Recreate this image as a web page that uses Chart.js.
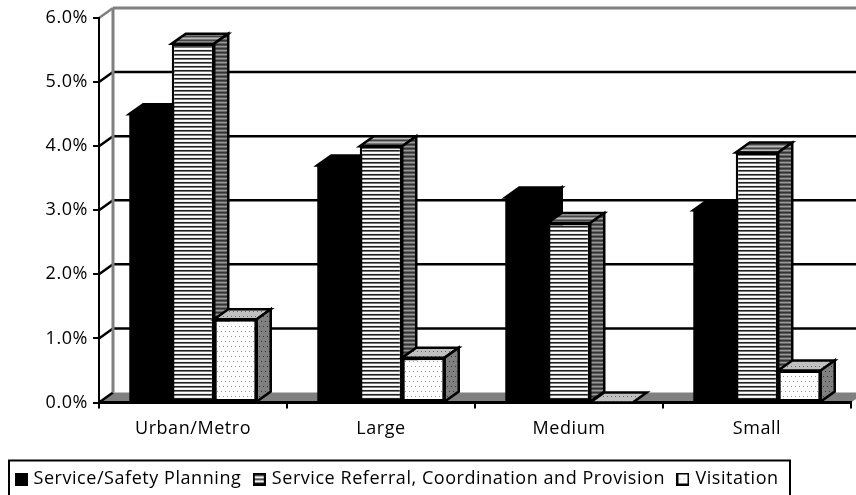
<!DOCTYPE html>
<html>
<head>
<meta charset="utf-8">
<style>
  html, body { margin: 0; padding: 0; background: #fff; }
  #wrap { position: relative; width: 856px; height: 495px; overflow: hidden; }
</style>
<script src="https://cdn.jsdelivr.net/npm/chart.js@4"></script>
</head>
<body>
<div id="wrap"><canvas id="chart" width="856" height="495"></canvas></div>
<script>
const categories = ['Urban/Metro', 'Large', 'Medium', 'Small'];
const planning = [4.5, 3.7, 3.2, 3.0];
const referral = [5.6, 4.0, 2.8, 3.9];
const visitation = [1.3, 0.7, 0.0, 0.5];
const seriesNames = ['Service/Safety Planning', 'Service Referral, Coordination and Provision', 'Visitation'];
const yTicks = [0, 1, 2, 3, 4, 5, 6];

const FONT = { family: '"Open Sans", sans-serif', size: 18 };
const TRACKING = '0.55px';
const DEPTH_X = 14;
const DEPTH_Y = 10;

// Builds a repeating fill from a draw callback.
function tile(w, h, paint) {
  const c = document.createElement('canvas');
  c.width = w; c.height = h;
  paint(c.getContext('2d'));
  return c.getContext('2d').createPattern(c, 'repeat');
}
function stripes(colors) {
  return tile(1, colors.length, g => colors.forEach((col, i) => { g.fillStyle = col; g.fillRect(0, i, 1, 1); }));
}
function dots(bg, dot) {
  return tile(8, 10, g => {
    g.fillStyle = bg; g.fillRect(0, 0, 8, 10);
    g.fillStyle = dot;
    [[1, 1], [5, 1], [3, 6], [7, 6]].forEach(p => g.fillRect(p[0], p[1], 1, 1));
  });
}

const faces = [
  { front: '#000', top: '#000', side: '#000' },
  { front: stripes(['#fff', '#eee', '#222', '#777']),
    top: stripes(['#444', '#888', '#bbb', '#777']),
    side: stripes(['#333', '#555', '#999', '#666']) },
  { front: dots('#fff', '#999'), top: dots('#c0c0c0', '#666'), side: dots('#808080', '#333') }
];

// Legend swatches: small framed squares carrying each series' front fill.
function swatch(fill) {
  const c = document.createElement('canvas');
  c.width = 13; c.height = 13;
  const g = c.getContext('2d');
  g.fillStyle = fill; g.fillRect(1, 1, 11, 11);
  g.strokeStyle = '#000'; g.lineWidth = 2; g.strokeRect(1, 1, 11, 11);
  return c;
}
const swatches = faces.map(f => swatch(f.front));

// Back wall, floor and the side wall behind the bars.
const roomPlugin = {
  id: 'room',
  beforeLayout(chart) {
    chart.ctx.letterSpacing = TRACKING;
  },
  beforeDraw(chart) {
    const { ctx, chartArea: a, scales: { y } } = chart;
    ctx.letterSpacing = TRACKING;
    ctx.save();
    ctx.fillStyle = '#fff';
    ctx.fillRect(0, 0, chart.width, chart.height);
    const gray = '#808080';
    ctx.fillStyle = gray;
    ctx.beginPath();
    ctx.moveTo(a.left, a.bottom);
    ctx.lineTo(a.left + DEPTH_X, a.bottom - DEPTH_Y);
    ctx.lineTo(a.right + DEPTH_X, a.bottom - DEPTH_Y);
    ctx.lineTo(a.right, a.bottom);
    ctx.closePath();
    ctx.fill();

    yTicks.forEach(v => {
      const py = y.getPixelForValue(v);
      const isTop = v === yTicks[yTicks.length - 1];
      ctx.strokeStyle = isTop ? gray : '#000';
      ctx.lineWidth = isTop ? 3 : 2.5;
      if (v > 0) {
        ctx.beginPath();
        ctx.moveTo(a.left + DEPTH_X, py - DEPTH_Y);
        ctx.lineTo(a.right + DEPTH_X, py - DEPTH_Y);
        ctx.stroke();
      }
      ctx.lineWidth = 2.5;
      ctx.beginPath();
      ctx.moveTo(a.left, py);
      ctx.lineTo(a.left + DEPTH_X, py - DEPTH_Y);
      ctx.stroke();
    });

    ctx.strokeStyle = gray;
    ctx.lineWidth = 3;
    ctx.beginPath();
    ctx.moveTo(a.left + DEPTH_X, y.getPixelForValue(6) - DEPTH_Y);
    ctx.lineTo(a.left + DEPTH_X, a.bottom - DEPTH_Y);
    ctx.stroke();
    ctx.restore();
  },
  // Legend frame, running off the lower edge of the page.
  afterDraw(chart) {
    const { ctx } = chart;
    ctx.save();
    ctx.strokeStyle = '#000';
    ctx.lineWidth = 2;
    ctx.strokeRect(9, 460.5, 781, 50);
    ctx.restore();
  }
};

function drawDepth(ctx, meta, face) {
  ctx.save();
  ctx.strokeStyle = '#000';
  ctx.lineWidth = 2.5;
  ctx.lineJoin = 'miter';
  meta.data.forEach(bar => {
    const p = bar.getProps(['x', 'y', 'base', 'width'], true);
    const l = p.x - p.width / 2, r = p.x + p.width / 2;
    ctx.fillStyle = face.top;
    ctx.beginPath();
    ctx.moveTo(l, p.y);
    ctx.lineTo(l + DEPTH_X, p.y - DEPTH_Y);
    ctx.lineTo(r + DEPTH_X, p.y - DEPTH_Y);
    ctx.lineTo(r, p.y);
    ctx.closePath();
    ctx.fill(); ctx.stroke();
    if (p.base - p.y > 0.5) {
      ctx.fillStyle = face.side;
      ctx.beginPath();
      ctx.moveTo(r, p.y);
      ctx.lineTo(r + DEPTH_X, p.y - DEPTH_Y);
      ctx.lineTo(r + DEPTH_X, p.base - DEPTH_Y);
      ctx.lineTo(r, p.base);
      ctx.closePath();
      ctx.fill(); ctx.stroke();
    }
  });
  ctx.restore();
}

// Series are painted left to right so each one overlaps the side face of the one before it.
const depthPlugin = {
  id: 'depth',
  beforeDatasetDraw() {
    return false;
  },
  afterDatasetsDraw(chart) {
    faces.forEach((face, i) => {
      const meta = chart.getDatasetMeta(i);
      drawDepth(chart.ctx, meta, face);
      meta.controller.draw();
    });
  }
};

const legendDefaults = Chart.defaults.plugins.legend.labels.generateLabels;

new Chart(document.getElementById('chart'), {
  type: 'bar',
  data: {
    labels: categories,
    datasets: [
      { label: seriesNames[0], data: planning, backgroundColor: faces[0].front, borderWidth: 0 },
      { label: seriesNames[1], data: referral, backgroundColor: faces[1].front },
      { label: seriesNames[2], data: visitation, backgroundColor: faces[2].front }
    ]
  },
  plugins: [roomPlugin, depthPlugin],
  options: {
    responsive: false,
    animation: false,
    events: [],
    layout: { padding: { top: 18, left: 3, right: 5, bottom: -3 } },
    datasets: {
      bar: { categoryPercentage: 0.678, barPercentage: 1, borderColor: '#000', borderWidth: 2.5, borderSkipped: false }
    },
    scales: {
      x: {
        grid: { drawOnChartArea: false, color: '#000', lineWidth: 2, tickLength: 6 },
        border: { color: '#000', width: 3 },
        ticks: { color: '#000', font: FONT, padding: 10, maxRotation: 0 },
        afterFit(s) { s.height = 53; }
      },
      y: {
        min: 0, max: 6,
        afterBuildTicks(s) { s.ticks = yTicks.map(v => ({ value: v })); },
        grid: { drawOnChartArea: false, color: '#000', lineWidth: 2, tickLength: 6 },
        border: { color: '#000', width: 2 },
        ticks: { color: '#000', font: FONT, padding: 5, callback: v => v.toFixed(1) + '%' },
        afterFit(s) { s.width = 96; }
      }
    },
    plugins: {
      tooltip: { enabled: false },
      legend: {
        position: 'bottom',
        align: 'start',
        labels: {
          color: '#000',
          font: FONT,
          padding: 14.5,
          boxWidth: 7,
          usePointStyle: true,
          pointStyleWidth: 7,
          generateLabels(chart) {
            return legendDefaults(chart).map((item, i) => Object.assign(item, { pointStyle: swatches[i] }));
          }
        }
      }
    }
  }
});
</script>
</body>
</html>
